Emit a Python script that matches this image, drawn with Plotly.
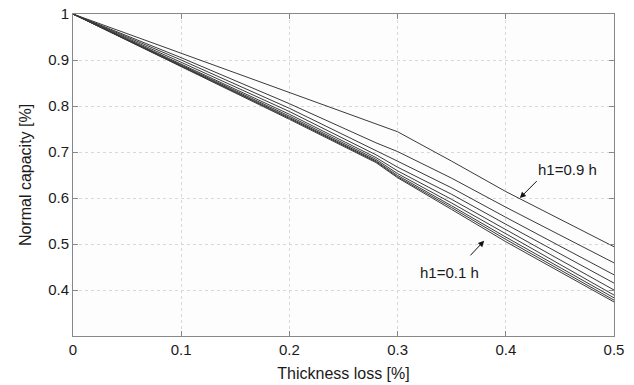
import plotly.graph_objects as go

thickness_loss = [0, 0.1, 0.2, 0.28, 0.3, 0.35, 0.4, 0.5]

# Normal capacity for h1 = 0.1 h ... 0.9 h
cap_h01 = [1, 0.885, 0.771, 0.677, 0.644, 0.575, 0.505, 0.374]
cap_h02 = [1, 0.886, 0.773, 0.679, 0.646, 0.579, 0.510, 0.378]
cap_h03 = [1, 0.887, 0.775, 0.681, 0.649, 0.583, 0.515, 0.383]
cap_h04 = [1, 0.889, 0.778, 0.684, 0.653, 0.589, 0.522, 0.389]
cap_h05 = [1, 0.891, 0.782, 0.688, 0.659, 0.597, 0.531, 0.400]
cap_h06 = [1, 0.895, 0.788, 0.694, 0.667, 0.608, 0.543, 0.415]
cap_h07 = [1, 0.900, 0.795, 0.704, 0.680, 0.622, 0.558, 0.433]
cap_h08 = [1, 0.905, 0.805, 0.720, 0.701, 0.643, 0.580, 0.459]
cap_h09 = [1, 0.915, 0.830, 0.762, 0.744, 0.680, 0.614, 0.494]

series = [cap_h01, cap_h02, cap_h03, cap_h04, cap_h05, cap_h06, cap_h07, cap_h08, cap_h09]

x_ticks = [0, 0.1, 0.2, 0.3, 0.4, 0.5]
x_labels = ["0", "0.1", "0.2", "0.3", "0.4", "0.5"]
y_ticks = [0.4, 0.5, 0.6, 0.7, 0.8, 0.9, 1.0]
y_labels = ["0.4", "0.5", "0.6", "0.7", "0.8", "0.9", "1"]

fig = go.Figure()
for s in series:
    fig.add_trace(go.Scatter(x=thickness_loss, y=s, mode="lines",
                             line=dict(color="#3a3a3a", width=1), showlegend=False,
                             hoverinfo="skip"))

font = dict(family="Liberation Sans, Arial, sans-serif", size=15, color="#1a1a1a")
title_font = dict(family="Liberation Sans, Arial, sans-serif", size=16, color="#1a1a1a")

fig.add_annotation(x=0.413, y=0.600, ax=0.430, ay=0.640, xref="x", yref="y",
                   axref="x", ayref="y", text="", showarrow=True,
                   arrowhead=2, arrowsize=1.2, arrowwidth=1, arrowcolor="#111")
fig.add_annotation(x=0.457, y=0.662, text="h1=0.9 h", showarrow=False, font=font)
fig.add_annotation(x=0.380, y=0.507, ax=0.366, ay=0.472, xref="x", yref="y",
                   axref="x", ayref="y", text="", showarrow=True,
                   arrowhead=2, arrowsize=1.2, arrowwidth=1, arrowcolor="#111")
fig.add_annotation(x=0.348, y=0.439, text="h1=0.1 h", showarrow=False, font=font)

axis_common = dict(showline=True, linecolor="#888", linewidth=1, mirror="ticks",
                   ticks="inside", ticklen=5, tickcolor="#888",
                   showgrid=True, gridcolor="#d8d8d8", griddash="dot", gridwidth=1,
                   zeroline=False, tickfont=font, automargin=False)

fig.update_xaxes(range=[0, 0.5], tickvals=x_ticks, ticktext=x_labels,
                 title=dict(text="Thickness loss [%]", font=title_font, standoff=10), **axis_common)
fig.update_yaxes(range=[0.3, 1.0], tickvals=y_ticks, ticktext=y_labels,
                 title=dict(text="Normal capacity [%]", font=title_font, standoff=12), **axis_common)

fig.update_layout(width=634, height=385, margin=dict(l=73, r=20, t=14, b=49),
                  paper_bgcolor="white", plot_bgcolor="#fdfdfd", font=font)

fig.write_html("out.html", config={"displayModeBar": False},
               post_script="document.body.style.margin='0px';")
